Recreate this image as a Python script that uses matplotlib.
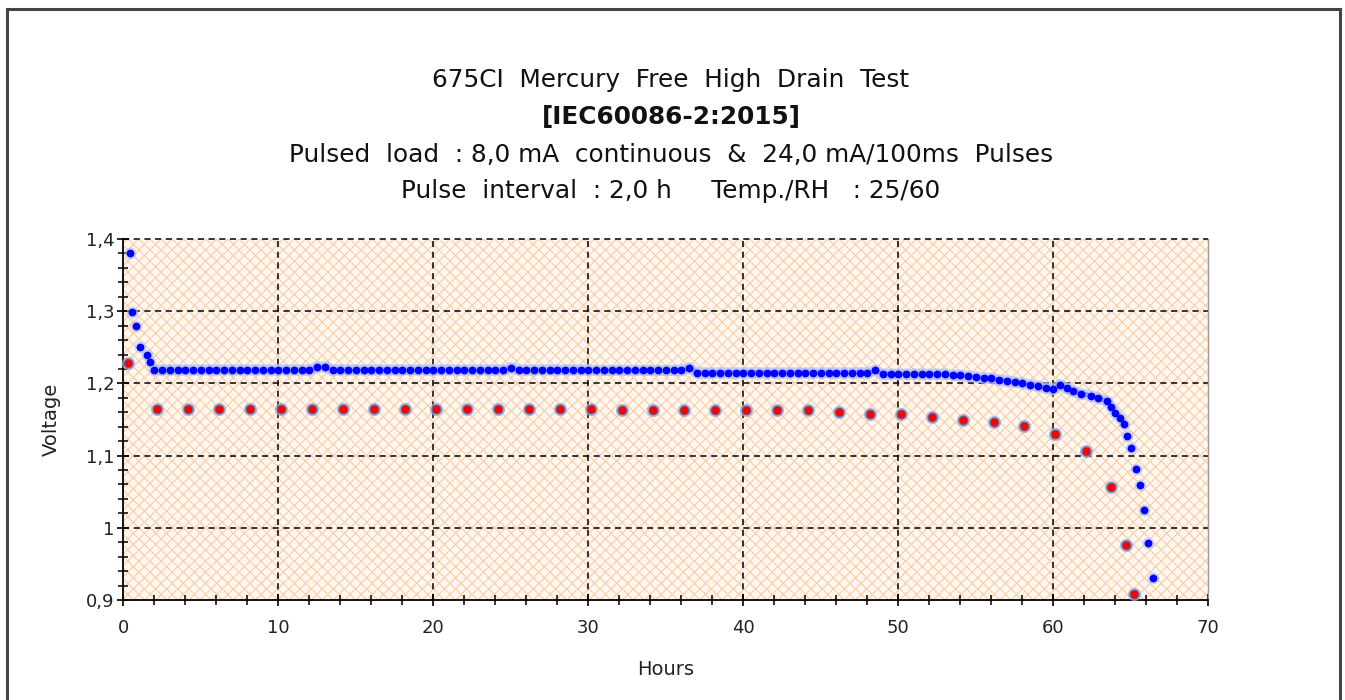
import matplotlib
matplotlib.use("Agg")
import matplotlib.pyplot as plt
from matplotlib.patches import Rectangle
from matplotlib.lines import Line2D
from matplotlib.ticker import MultipleLocator, FuncFormatter
import numpy as np

# ---------------- data ----------------
title_lines = [
    "675CI  Mercury  Free  High  Drain  Test",
    "[IEC60086-2:2015]",
    "Pulsed  load  : 8,0 mA  continuous  &  24,0 mA/100ms  Pulses",
    "Pulse  interval  : 2,0 h     Temp./RH   : 25/60",
]
x_label = "Hours"
y_label = "Voltage"

# continuous (background) voltage readings
blue_hours = [0.4, 0.55, 0.8, 1.05, 1.55, 1.75] + list(np.arange(2.0, 60.01, 0.5)) + [
    60.4, 60.9, 61.3, 61.8, 62.4, 62.9, 63.45, 63.7, 63.98, 64.3, 64.56, 64.75,
    65.0, 65.34, 65.6, 65.85, 66.1, 66.43]
blue_volts = [
    1.380, 1.299, 1.279, 1.250, 1.239, 1.229,
    # 2.0 - 12.0
    1.219, 1.219, 1.219, 1.219, 1.219, 1.219, 1.219, 1.219, 1.219, 1.219, 1.219,
    1.219, 1.219, 1.219, 1.219, 1.219, 1.219, 1.219, 1.219, 1.219, 1.219,
    # 12.5 - 13.0
    1.223, 1.223,
    # 13.5 - 24.5
    1.219, 1.219, 1.219, 1.219, 1.219, 1.219, 1.219, 1.219, 1.219, 1.219, 1.219,
    1.219, 1.219, 1.219, 1.219, 1.219, 1.219, 1.219, 1.219, 1.219, 1.219, 1.219, 1.219,
    # 25.0
    1.222,
    # 25.5 - 30.0
    1.219, 1.219, 1.219, 1.219, 1.219, 1.219, 1.219, 1.219, 1.219, 1.219,
    # 30.5 - 36.0
    1.218, 1.218, 1.218, 1.218, 1.218, 1.218, 1.218, 1.218, 1.218, 1.218, 1.218, 1.218,
    # 36.5
    1.222,
    # 37.0 - 48.0
    1.215, 1.215, 1.215, 1.215, 1.215, 1.215, 1.215, 1.215, 1.215, 1.215, 1.215,
    1.215, 1.215, 1.215, 1.215, 1.215, 1.215, 1.215, 1.215, 1.215, 1.215, 1.215, 1.215,
    # 48.5
    1.218,
    # 49.0 - 53.0
    1.213, 1.213, 1.213, 1.213, 1.213, 1.213, 1.213, 1.213, 1.213,
    # 53.5 - 60.0
    1.212, 1.211, 1.210, 1.209, 1.208, 1.207, 1.205, 1.204, 1.202, 1.200, 1.198,
    1.196, 1.194, 1.192,
    # tail
    1.198, 1.193, 1.189, 1.186, 1.183, 1.180, 1.175, 1.168, 1.159, 1.152, 1.144,
    1.127, 1.111, 1.081, 1.059, 1.025, 0.979, 0.930,
]

# pulse readings
red_hours = [0.3, 2.2, 4.2, 6.2, 8.2, 10.2, 12.2, 14.2, 16.2, 18.2, 20.2, 22.2,
             24.2, 26.2, 28.2, 30.2, 32.2, 34.2, 36.2, 38.2, 40.2, 42.2, 44.2,
             46.2, 48.2, 50.2, 52.2, 54.2, 56.2, 58.1, 60.1, 62.1, 63.7, 64.7, 65.2]
red_volts = [1.228, 1.165, 1.165, 1.165, 1.165, 1.165, 1.165, 1.165, 1.165, 1.165,
             1.165, 1.165, 1.165, 1.165, 1.165, 1.165, 1.163, 1.163, 1.163, 1.163,
             1.163, 1.163, 1.163, 1.160, 1.158, 1.157, 1.153, 1.150, 1.147, 1.141,
             1.130, 1.106, 1.057, 0.976, 0.908]

x_min, x_max = 0, 70
y_min, y_max = 0.9, 1.4

# ---------------- figure ----------------
W, H = 1345, 700
plt.rcParams['font.family'] = ['DejaVu Sans']
plt.rcParams['hatch.linewidth'] = 0.8
fig = plt.figure(figsize=(W / 100, H / 100), dpi=100)

# outer frame
fl = 7 / W; fr = 1340 / W; ft = 1 - 9 / H
for xs, ys in [([fl, fl], [0, ft]), ([fl, fr], [ft, ft]), ([fr, fr], [ft, 0])]:
    fig.add_artist(Line2D(xs, ys, transform=fig.transFigure, color='#444444', lw=2.2))

ax = fig.add_axes([123.3 / W, 1 - 600 / H, (1208.3 - 123.3) / W, (600 - 239) / H])
ax.set_xlim(x_min, x_max)
ax.set_ylim(y_min, y_max)

# hatched background
ax.set_facecolor('#fff7f0')
ax.add_patch(Rectangle((0, 0), 1, 1, transform=ax.transAxes, facecolor='none',
                       edgecolor='#f9cda5', hatch='xxx', lw=0, zorder=0))

# grid
for gx in range(10, 70, 10):
    ax.axvline(gx, color='black', lw=1.1, ls=(0, (4, 3)), zorder=1)
for gy in [1.0, 1.1, 1.2, 1.3, 1.4]:
    ax.axhline(gy, color='black', lw=1.1, ls=(0, (4, 3)), zorder=1, clip_on=False)

# spines
ax.spines['top'].set_visible(False)
ax.spines['right'].set_color('#999999')
ax.spines['right'].set_linewidth(1.0)
ax.spines['left'].set_linewidth(1.3)
ax.spines['bottom'].set_linewidth(1.3)

# ticks
ax.xaxis.set_major_locator(MultipleLocator(10))
ax.xaxis.set_minor_locator(MultipleLocator(2))
ax.yaxis.set_major_locator(MultipleLocator(0.1))
ax.yaxis.set_minor_locator(MultipleLocator(0.02))
ax.tick_params(axis='both', which='major', direction='inout', length=9, width=1.2,
               labelsize=13, colors='black', labelcolor='#222222')
ax.tick_params(axis='both', which='minor', direction='inout', length=7, width=1.1)
ax.tick_params(axis='x', which='both', top=False)
ax.tick_params(axis='y', which='both', right=False)
ax.tick_params(axis='x', pad=9)
ax.tick_params(axis='y', pad=2)

def yfmt(v, pos):
    s = f"{v:.1f}"
    if s.endswith(".0"):
        s = s[:-2]
    return s.replace(".", ",")
ax.yaxis.set_major_formatter(FuncFormatter(yfmt))
ax.xaxis.set_major_formatter(FuncFormatter(lambda v, p: f"{int(round(v))}"))

ax.set_xlabel(x_label, fontsize=14, labelpad=17, color='#222222')
ax.set_ylabel(y_label, fontsize=14, labelpad=18, color='#222222')

# data
bh = np.array(blue_hours); bv = np.array(blue_volts)
dense = (bh >= 1.9) & (bh <= 63.5)
ax.plot(bh[dense], bv[dense], color='#b8c4ff', lw=8, alpha=0.55, zorder=2,
        solid_capstyle='round')
ax.plot(bh[dense], bv[dense], color='#2a3cff', lw=3.2, zorder=3,
        solid_capstyle='round')
ax.plot(bh, bv, ls='none', marker='o', ms=8.5, color='#aab8ff',
        alpha=0.6, mew=0, zorder=3, clip_on=False)
ax.plot(bh, bv, ls='none', marker='o', ms=5.6, color='#0000ff',
        mew=0, zorder=4, clip_on=False)
ax.plot(red_hours, red_volts, ls='none', marker='o', ms=9.5, color='#9aa6d0',
        alpha=0.8, mew=0, zorder=5, clip_on=False)
ax.plot(red_hours, red_volts, ls='none', marker='o', ms=6.2, color='#ff0000',
        markeredgecolor='#6a5a8a', mew=0.8, zorder=6, clip_on=False)

# titles
title_y = [80, 117, 155, 191]
for i, (txt, yy) in enumerate(zip(title_lines, title_y)):
    fig.text(671 / W, 1 - yy / H, txt, ha='center', va='center', fontsize=17.8,
             fontweight='bold' if i == 1 else 'normal', color='#111111')

fig.savefig("out.png", dpi=100)
